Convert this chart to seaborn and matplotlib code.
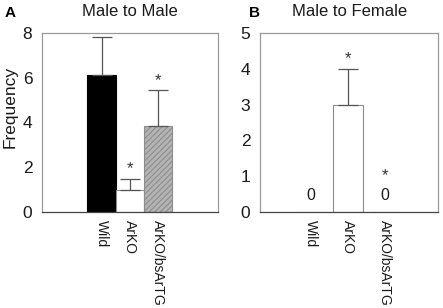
import numpy as np
import pandas as pd
import seaborn as sns
import matplotlib
matplotlib.use('Agg')
import matplotlib.pyplot as plt

sns.set_style('white')
matplotlib.rcParams['font.family'] = ['Liberation Sans', 'DejaVu Sans']
matplotlib.rcParams['hatch.color'] = '#7a7a7a'
matplotlib.rcParams['hatch.linewidth'] = 0.8

groups = ['Wild', 'ArKO', 'ArKO/bsArTG']

male_mean = [6.1, 1.0, 3.82]
male_err = [1.7, 0.48, 1.63]
male_sig = [False, True, True]

female_mean = [0.0, 3.0, 0.0]
female_err = [0.0, 1.0, 0.0]
female_sig = [False, True, True]

male_colors = ['black', 'white', '#b4b4b4']
female_colors = ['white', 'white', 'white']

edge = '#8c8c8c'
text_col = '#1a1a1a'

fig = plt.figure(figsize=(4.43, 3.08), dpi=100)
ax1 = fig.add_axes([0.0948, 0.312, 0.397, 0.581])
ax2 = fig.add_axes([0.587, 0.312, 0.402, 0.581])


def draw_panel(ax, means, errs, sig, colors, width, ymax, yticks, xlim, title, letter, letter_x, fmt_zero):
    df = pd.DataFrame({'group': groups, 'value': means})
    sns.barplot(data=df, x='group', y='value', hue='group', palette=colors,
                legend=False, width=width, ax=ax, errorbar=None,
                edgecolor=edge, linewidth=0.8)
    for i, p in enumerate(ax.patches):
        if colors[i] == 'black':
            p.set_edgecolor('black')
    if colors[2] != 'white':
        ax.patches[2].set_hatch('//////')
        ax.patches[2].set_edgecolor('#8c8c8c')

    x = np.arange(len(groups))
    m = np.array(means)
    e = np.array(errs)
    has = e > 0
    ax.errorbar(x[has], m[has], yerr=[np.zeros(has.sum()), e[has]], fmt='none',
                ecolor='#555555', elinewidth=0.9, capsize=7, capthick=0.9)

    step = ymax / 40
    for i in range(len(groups)):
        top = means[i] + errs[i]
        if fmt_zero and means[i] == 0:
            ax.text(i, 0.45 * ymax / 5, '0', ha='center', va='center',
                    fontsize=11.5, color=text_col)
            top = 0.45 * ymax / 5 + 2.2 * step
        if sig[i]:
            ax.text(i, top + 2.2 * step, '*', ha='center', va='center',
                    fontsize=12, color='#333333')

    ax.set_xlim(*xlim)
    ax.set_ylim(0, ymax)
    ax.set_yticks(yticks)
    ax.set_xlabel('')
    ax.set_ylabel('')
    ax.tick_params(axis='x', length=0, pad=6, labelsize=10, labelcolor=text_col)
    ax.tick_params(axis='y', length=0, pad=7, labelsize=12.5, labelcolor=text_col)
    for lab in ax.get_xticklabels():
        lab.set_rotation(270)
        lab.set_va('top')
        lab.set_ha('center')
    for s in ax.spines.values():
        s.set_visible(True)
        s.set_color('#9a9a9a')
        s.set_linewidth(0.9)
    ax.spines['bottom'].set_color('#444444')
    ax.set_title(title, fontsize=12, color=text_col, pad=12)
    ax.text(letter_x, 1.075, letter, transform=ax.transAxes, fontsize=11,
            fontweight='bold', va='bottom', ha='left', color='black')


draw_panel(ax1, male_mean, male_err, male_sig, male_colors, 1.0, 8,
           [0, 2, 4, 6, 8], (-2.1, 4.1), 'Male to Male', 'A', -0.21, False)
draw_panel(ax2, female_mean, female_err, female_sig, female_colors, 0.8, 5,
           [0, 1, 2, 3, 4, 5], (-1.37, 3.43), 'Male to Female', 'B', -0.06, True)

ax1.set_ylabel('Frequency', fontsize=12.5, color=text_col)
ax1.yaxis.set_label_coords(-0.14, 0.587)

fig.savefig('out.png', dpi=100)
